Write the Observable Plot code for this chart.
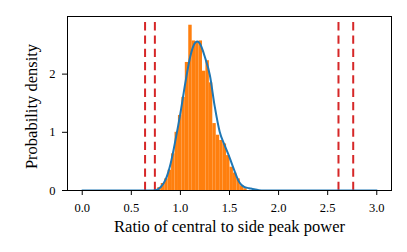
<!DOCTYPE html>
<html><head><meta charset="utf-8">
<script src="https://cdn.jsdelivr.net/npm/d3@7"></script>
<script src="https://cdn.jsdelivr.net/npm/@observablehq/plot@0.6"></script>
<style>body{margin:0;background:#fff} svg{display:block}</style>
</head><body><div id="chart"></div>
<script>
// Histogram (density) bins
const binStart = 0.77;
const binWidth = 0.035;
const binHeights = [0.05, 0.12, 0.2, 0.35, 0.63, 1.0, 1.29, 1.6, 2.2, 2.84, 2.57, 2.55, 2.57, 2.05, 2.23, 1.85, 1.15, 0.95, 0.86, 0.8, 0.6, 0.4, 0.3, 0.2, 0.08, 0.03];
// KDE curve
const kdeX = [0, 0.5, 0.7, 0.74, 0.77, 0.8, 0.85, 0.9, 0.95, 1.0, 1.05, 1.1, 1.15, 1.175, 1.2, 1.25, 1.3, 1.35, 1.4, 1.45, 1.5, 1.55, 1.6, 1.65, 1.7, 1.75, 1.8, 1.85, 2.0, 2.5, 3.0];
const kdeY = [0, 0, 0, 0.003, 0.02, 0.06, 0.19, 0.46, 0.87, 1.33, 1.85, 2.3, 2.54, 2.56, 2.52, 2.29, 1.98, 1.44, 1.01, 0.78, 0.57, 0.34, 0.14, 0.06, 0.04, 0.02, 0.005, 0, 0, 0, 0];
// Vertical dashed thresholds
const thresholds = [0.64, 0.74, 2.61, 2.76];
const xTicks = [0, 0.5, 1, 1.5, 2, 2.5, 3];
const yTicks = [0, 1, 2];
const xLabel = "Ratio of central to side peak power";
const yLabel = "Probability density";

const bins = binHeights.map((h, i) => ({x1: binStart + i * binWidth, x2: binStart + (i + 1) * binWidth, h}));
const kde = kdeX.map((x, i) => ({x, y: kdeY[i]}));
const yTop = 2.99;

const plot = Plot.plot({
  width: 407, height: 252,
  marginLeft: 67, marginRight: 16, marginTop: 16, marginBottom: 62,
  style: {fontFamily: "'Liberation Serif', serif", fontSize: "12.5px", color: "#000", background: "#fff"},
  x: {domain: [-0.15, 3.15]},
  y: {domain: [0, yTop]},
  marks: [
    Plot.rectY(bins, {x1: "x1", x2: "x2", y: "h", fill: "#ff7f0e", insetLeft: 0, insetRight: 0}),
    Plot.ruleX(thresholds, {x: d => d, y1: 0, y2: yTop, stroke: "#d62728", strokeWidth: 2, strokeDasharray: "8.3,5"}),
    Plot.line(kde, {x: "x", y: "y", stroke: "#1f77b4", strokeWidth: 2, curve: "monotone-x", clip: true}),
    Plot.frame({stroke: "#000", strokeWidth: 1}),
    Plot.axisX({ticks: xTicks, tickFormat: d3.format(".1f"), tickSize: 5, tickPadding: 8, label: null, fontSize: 12.5}),
    Plot.axisY({ticks: yTicks, tickFormat: d3.format("d"), tickSize: 5, tickPadding: 7, label: null, fontSize: 12.5}),
    Plot.text([xLabel], {text: d => d, frameAnchor: "bottom", dy: 41, lineAnchor: "bottom", textAnchor: "middle", fontSize: 16.5}),
    Plot.text([yLabel], {text: d => d, frameAnchor: "left", dx: -42, dy: 3, rotate: -90, lineAnchor: "top", textAnchor: "middle", fontSize: 16.5})
  ]
});
document.getElementById("chart").appendChild(plot);
</script>
</body></html>
